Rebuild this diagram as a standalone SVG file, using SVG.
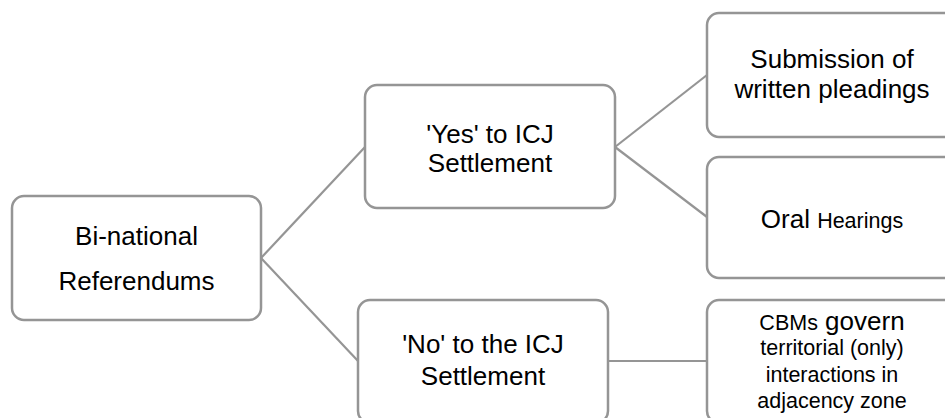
<svg xmlns="http://www.w3.org/2000/svg" width="945" height="418" viewBox="0 0 945 418">
<style>
.box{fill:#fff;stroke:#959595;stroke-width:2.5}
.conn line{stroke:#959595;stroke-width:2.2}
text{font-family:"Liberation Sans",Arial,sans-serif;fill:#000;text-anchor:middle;font-size:26px}
.s{font-size:21.5px}
</style>
<rect width="945" height="418" fill="#fff"/>
<g class="conn" id="connectors">
<line x1="261" y1="258" x2="365" y2="147"/>
<line x1="261" y1="258" x2="358" y2="361"/>
<line x1="615" y1="147" x2="707" y2="75"/>
<line x1="615" y1="147" x2="707" y2="217"/>
<line x1="608" y1="361" x2="707" y2="361"/>
</g>
<g id="binational">
<rect class="box" x="12" y="196" width="249" height="124" rx="12"/>
<text x="136.5" y="245">Bi-national</text>
<text x="136.5" y="290">Referendums</text>
</g>
<g id="yes">
<rect class="box" x="365" y="85" width="250" height="123" rx="12"/>
<text x="490" y="143">'Yes' to ICJ</text>
<text x="490" y="172">Settlement</text>
</g>
<g id="no">
<rect class="box" x="358" y="300" width="250" height="123" rx="12"/>
<text x="483" y="353">'No' to the ICJ</text>
<text x="483" y="385">Settlement</text>
</g>
<g id="submission">
<rect class="box" x="707" y="13" width="250" height="124" rx="12"/>
<text x="832" y="68">Submission of</text>
<text x="832" y="98">written pleadings</text>
</g>
<g id="oral">
<rect class="box" x="707" y="157" width="250" height="121" rx="12"/>
<text x="832" y="228">Oral <tspan class="s">Hearings</tspan></text>
</g>
<g id="cbms">
<rect class="box" x="707" y="300" width="250" height="123" rx="12"/>
<text x="832" y="330"><tspan class="s">CBMs</tspan> govern</text>
<text class="s" x="832" y="355">territorial (only)</text>
<text class="s" x="832" y="382">interactions in</text>
<text class="s" x="832" y="408">adjacency zone</text>
</g>
</svg>
